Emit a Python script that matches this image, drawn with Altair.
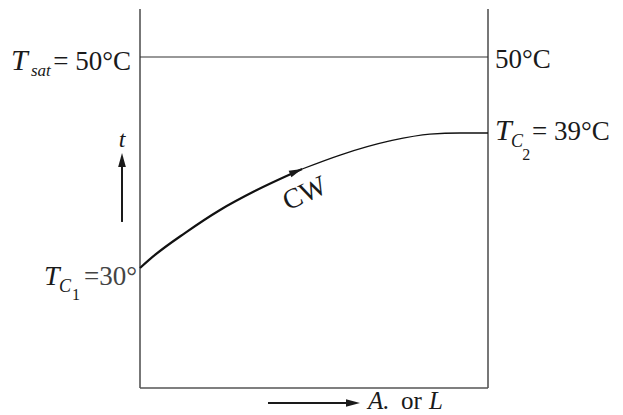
import altair as alt
import pandas as pd

# Cooling-water temperature along the condenser surface (fraction of A or L)
area = [0.0, 0.043, 0.129, 0.23, 0.33, 0.466, 0.575, 0.718, 0.833, 0.92, 1.0]
water_temp = [30.0, 30.87, 32.33, 33.87, 35.13, 36.6, 37.53, 38.47, 38.93, 39.0, 39.0]

# Key temperatures of the diagram, °C
T_SAT = 50.0
T_C1 = 30.0
T_C2 = 39.0
T_FLOOR = 22.0
T_TOP = 55.0

# Label texts
sat_label = ["T", "sat", "= 50°C"]
right_sat_label = "50°C"
outlet_label = ["T", "C", "2", "= 39°C"]
inlet_label = ["T", "C", "1", "=30°"]
axis_t = "t"
axis_a = ["A.", "or", "L"]
stream_label = "CW"

FONT = "Liberation Serif"
INK = "#1a1a1a"

x_scale = alt.Scale(domain=[0, 1], range=[140, 488], zero=False, nice=False)
y_scale = alt.Scale(domain=[T_FLOOR, T_C1, T_C2, T_SAT, T_TOP],
                    range=[388, 268, 133, 57, 9], zero=False, nice=False)


def X(field):
    return alt.X(field, type="quantitative", scale=x_scale, axis=None)


def Y(field):
    return alt.Y(field, type="quantitative", scale=y_scale, axis=None)


def label(text, a, t, size, italic=False, align="left", color=INK,
          angle=0, baseline="alphabetic"):
    df = pd.DataFrame({"A": [a], "t": [t], "label": [text]})
    return alt.Chart(df).mark_text(
        font=FONT, fontSize=size, fontStyle="italic" if italic else "normal",
        align=align, baseline=baseline, color=color, angle=angle,
    ).encode(x=X("A"), y=Y("t"), text="label:N")


def arrowhead(a, t, angle, size, color=INK):
    df = pd.DataFrame({"A": [a], "t": [t]})
    return alt.Chart(df).mark_point(
        shape="M0,0L-2,-0.55L-2,0.55Z", filled=True, color=color,
        opacity=1, size=size, angle=angle, strokeWidth=0,
    ).encode(x=X("A"), y=Y("t"))


curve_df = pd.DataFrame({"A": area, "t": water_temp})

# Box: two side walls and the floor
box_df = pd.DataFrame({
    "x": [0.0, 1.0, 0.0], "x2": [0.0, 1.0, 1.0],
    "y": [T_FLOOR, T_FLOOR, T_FLOOR], "y2": [T_TOP, T_TOP, T_FLOOR],
})
box = alt.Chart(box_df).mark_rule(color="#555555", strokeWidth=1.6).encode(
    x=X("x"), x2=alt.X2("x2"), y=Y("y"), y2=alt.Y2("y2"))

sat_df = pd.DataFrame({"x": [0.0], "x2": [1.0], "y": [T_SAT]})
sat_line = alt.Chart(sat_df).mark_rule(color="#333333", strokeWidth=1.1).encode(
    x=X("x"), x2=alt.X2("x2"), y=Y("y"))

curve_in = alt.Chart(curve_df).transform_filter("datum.A <= 0.4661").mark_line(
    color="#111111", strokeWidth=2.2, interpolate="monotone").encode(x=X("A"), y=Y("t"))
curve_out = alt.Chart(curve_df).transform_filter("datum.A >= 0.4659").mark_line(
    color="#111111", strokeWidth=1.3, interpolate="monotone").encode(x=X("A"), y=Y("t"))

# Direction arrows
t_shaft_df = pd.DataFrame({"x": [-0.0517], "y": [33.07], "y2": [37.0]})
t_shaft = alt.Chart(t_shaft_df).mark_rule(color=INK, strokeWidth=2).encode(
    x=X("x"), y=Y("y"), y2=alt.Y2("y2"))
a_shaft_df = pd.DataFrame({"x": [0.3678], "x2": [0.6], "y": [21.0]})
a_shaft = alt.Chart(a_shaft_df).mark_rule(color=INK, strokeWidth=2).encode(
    x=X("x"), x2=alt.X2("x2"), y=Y("y"))

layers = [
    box, sat_line, curve_in, curve_out, t_shaft, a_shaft,
    arrowhead(-0.0517, 37.67, 270, 196),
    arrowhead(0.6322, 21.0, 0, 196),
    arrowhead(0.4655, 36.6, 337, 169),
    # T_sat = 50°C
    label(sat_label[0], -0.3707, 48.12, 30, italic=True),
    label(sat_label[1], -0.3132, 47.25, 17, italic=True),
    label(sat_label[2], -0.0259, 48.12, 27, align="right"),
    label(right_sat_label, 1.0201, 48.41, 27),
    # T_C2 = 39°C
    label(outlet_label[0], 1.0201, 38.53, 30, italic=True),
    label(outlet_label[1], 1.066, 38.07, 18, italic=True),
    label(outlet_label[2], 1.0985, 37.2, 16),
    label(outlet_label[3], 1.1264, 38.53, 27, align="left"),
    # T_C1 = 30°
    label(inlet_label[0], -0.2759, 28.867, 28, italic=True),
    label(inlet_label[1], -0.2328, 28.4, 18, italic=True),
    label(inlet_label[2], -0.1954, 27.867, 16),
    label(inlet_label[3], -0.0086, 28.867, 27, align="right", color="#444444"),
    # axis words
    label(axis_t, -0.0517, 38.07, 24, italic=True, align="center"),
    label(axis_a[0], 0.6552, 20.6, 25, italic=True),
    label(axis_a[1], 0.75, 20.6, 25),
    label(axis_a[2], 0.8305, 20.6, 25, italic=True),
    label(stream_label, 0.4741, 34.93, 28, align="center", baseline="middle", angle=335),
]

chart = alt.layer(*layers).properties(
    width=623, height=415,
    autosize=alt.AutoSizeParams(type="none"),
    padding=0,
    background="white",
).configure_view(stroke=None)

chart.save("out.html", embed_options={"renderer": "svg", "actions": False})
